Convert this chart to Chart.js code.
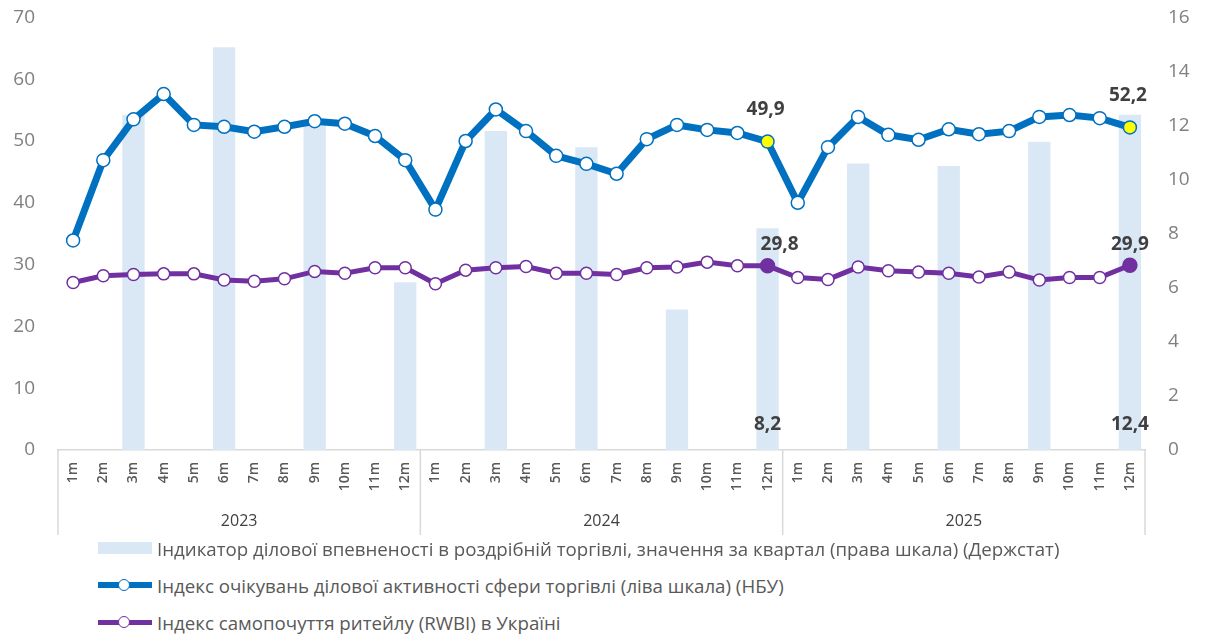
<!DOCTYPE html>
<html>
<head>
<meta charset="utf-8">
<script src="https://cdn.jsdelivr.net/npm/chart.js@4.4.1/dist/chart.umd.min.js"></script>
<style>
  html, body { margin: 0; padding: 0; background: #fff; overflow: hidden; }
  #wrap { position: relative; width: 1209px; height: 636px; font-family: "Open Sans", sans-serif; overflow: hidden; }
  #box { position: absolute; left: 0; top: -17px; width: 1209px; height: 557px; }
  .row { position: absolute; left: 98px; height: 24px; display: flex; align-items: center;
         color: #595959; font-size: 18.7px; white-space: nowrap; }
  .sw { position: relative; width: 54px; height: 24px; margin-right: 5px; flex: none; }
  .sw .bar { position: absolute; left: 0; top: 6px; width: 54px; height: 12px; background: #dae8f6; }
  .sw .ln { position: absolute; left: 0; width: 54px; }
  .sw .dot { position: absolute; left: 20px; top: 6px; width: 10px; height: 10px; border-radius: 50%;
             background: #fff; border: 1.5px solid; }
</style>
</head>
<body>
<div id="wrap">
  <div id="box"><canvas id="chart"></canvas></div>
  <div class="row" style="top:536px"><span class="sw"><span class="bar"></span></span>Індикатор ділової впевненості в роздрібній торгівлі, значення за квартал (права шкала) (Держстат)</div>
  <div class="row" style="top:573px"><span class="sw"><span class="ln" style="top:9px;height:6px;background:#0070c0"></span><span class="dot" style="border-color:#0070c0"></span></span>Індекс очікувань ділової активності сфери торгівлі (ліва шкала) (НБУ)</div>
  <div class="row" style="top:610px"><span class="sw"><span class="ln" style="top:9.5px;height:5px;background:#7030a0"></span><span class="dot" style="border-color:#7030a0"></span></span>Індекс самопочуття ритейлу (RWBI) в Україні</div>
</div>
<script>
const years = ["2023", "2024", "2025"];
const months = ["1m", "2m", "3m", "4m", "5m", "6m", "7m", "8m", "9m", "10m", "11m", "12m"];

// Індекс очікувань ділової активності (НБУ), ліва шкала
const expectations = [
    33.9, 46.9, 53.5, 57.6, 52.6, 52.3, 51.5, 52.3, 53.2, 52.8, 50.8, 46.9,
    38.9, 50.0, 55.1, 51.6, 47.6, 46.3, 44.7, 50.3, 52.6, 51.8, 51.3, 49.9,
    40.0, 49.0, 53.9, 51.0, 50.2, 51.9, 51.1, 51.6, 53.9, 54.2, 53.7, 52.2
];

// RWBI, ліва шкала
const rwbi = [
    27.1, 28.2, 28.4, 28.5, 28.5, 27.5, 27.3, 27.7, 28.9, 28.6, 29.5, 29.5,
    26.9, 29.1, 29.5, 29.7, 28.6, 28.6, 28.4, 29.5, 29.6, 30.4, 29.8, 29.8,
    27.9, 27.6, 29.6, 29.0, 28.8, 28.6, 28.0, 28.8, 27.5, 27.9, 27.9, 29.9
];

// Індикатор ділової впевненості (Держстат), за квартал, права шкала
const confidence = [12.4, 14.9, 12.1, 6.2, 11.8, 11.2, 5.2, 8.2, 10.6, 10.5, 11.4, 12.4];

const leftTicks = [0, 70, 10];
const rightTicks = [0, 16, 2];

const categories = years.flatMap(y => months);
const confidenceMonthly = categories.map((m, i) => (i % 3 === 2 ? confidence[Math.floor(i / 3)] : null));

// which points get a value label
const highlighted = [23, 35];

function fmt(v) {
    return v.toFixed(1).replace(".", ",");
}

function pointFill(color, mark) {
    return categories.map((m, i) => (highlighted.includes(i) ? mark : color));
}

const valueLabels = {
    id: "valueLabels",
    afterDatasetsDraw(chart) {
        const ctx = chart.ctx;
        const area = chart.chartArea;
        ctx.save();
        ctx.font = "bold 19px 'Open Sans', sans-serif";
        ctx.fillStyle = "#404040";
        ctx.textAlign = "center";
        ctx.textBaseline = "middle";
        highlighted.forEach(i => {
            const blue = chart.getDatasetMeta(2).data[i];
            ctx.fillText(fmt(expectations[i]), blue.x - 2, blue.y - 32);
            const purple = chart.getDatasetMeta(1).data[i];
            ctx.fillText(fmt(rwbi[i]), purple.x + (i === 23 ? 12 : 0), purple.y - 21);
            const bar = chart.getDatasetMeta(0).data[i];
            ctx.fillText(fmt(confidenceMonthly[i]), bar.x, area.bottom - 25);
        });
        ctx.restore();
    }
};

const yearBands = {
    id: "yearBands",
    afterDraw(chart) {
        const ctx = chart.ctx;
        const area = chart.chartArea;
        const x = chart.scales.x;
        const step = x.getPixelForValue(1) - x.getPixelForValue(0);
        ctx.save();
        ctx.strokeStyle = "#d9d9d9";
        ctx.lineWidth = 1.5;
        for (let k = 0; k <= years.length; k++) {
            const px = x.getPixelForValue(k * months.length) - step / 2;
            ctx.beginPath();
            ctx.moveTo(px, area.bottom);
            ctx.lineTo(px, area.bottom + 85);
            ctx.stroke();
        }
        ctx.font = "16px 'Open Sans', sans-serif";
        ctx.fillStyle = "#404040";
        ctx.textAlign = "center";
        ctx.textBaseline = "middle";
        years.forEach((y, k) => {
            const a = x.getPixelForValue(k * months.length) - step / 2;
            const b = x.getPixelForValue((k + 1) * months.length) - step / 2;
            ctx.fillText(y, (a + b) / 2, area.bottom + 71);
        });
        ctx.restore();
    }
};

const ctx = document.getElementById("chart").getContext("2d");

new Chart(ctx, {
    data: {
        labels: categories,
        datasets: [
            {
                type: "bar",
                label: "Індикатор ділової впевненості",
                data: confidenceMonthly,
                yAxisID: "y2",
                backgroundColor: "#dae8f6",
                barPercentage: 0.74,
                categoryPercentage: 1.0,
                order: 3
            },
            {
                type: "line",
                label: "RWBI",
                data: rwbi,
                yAxisID: "y",
                borderColor: "#7030a0",
                borderWidth: 5,
                pointRadius: categories.map((m, i) => (highlighted.includes(i) ? 7 : 6)),
                pointBorderWidth: 1.5,
                pointBorderColor: "#7030a0",
                pointBackgroundColor: pointFill("#ffffff", "#7030a0"),
                tension: 0,
                order: 2
            },
            {
                type: "line",
                label: "Індекс очікувань",
                data: expectations,
                yAxisID: "y",
                borderColor: "#0070c0",
                borderWidth: 7,
                pointRadius: 6.5,
                pointBorderWidth: 1.5,
                pointBorderColor: "#0070c0",
                pointBackgroundColor: pointFill("#ffffff", "#ffff00"),
                tension: 0,
                order: 1
            }
        ]
    },
    options: {
        responsive: true,
        maintainAspectRatio: false,
        animation: false,
        layout: { padding: 0 },
        plugins: {
            legend: { display: false },
            tooltip: { enabled: false }
        },
        scales: {
            x: {
                grid: { display: false, drawTicks: false },
                border: { display: true, color: "#d9d9d9", width: 1.5 },
                ticks: {
                    autoSkip: false,
                    minRotation: 90,
                    maxRotation: 90,
                    padding: 12,
                    color: "#595959",
                    font: { family: "'Open Sans', sans-serif", size: 14, weight: "600" }
                },
                afterFit: s => { s.height = 90; }
            },
            y: {
                position: "left",
                min: leftTicks[0],
                max: leftTicks[1],
                ticks: {
                    stepSize: leftTicks[2],
                    padding: 23,
                    color: "#808080",
                    font: { family: "'Open Sans', sans-serif", size: 19 }
                },
                grid: { display: false, drawTicks: false },
                border: { display: false },
                afterFit: s => { s.width = 58; }
            },
            y2: {
                position: "right",
                min: rightTicks[0],
                max: rightTicks[1],
                ticks: {
                    stepSize: rightTicks[2],
                    padding: 23,
                    color: "#808080",
                    font: { family: "'Open Sans', sans-serif", size: 19 }
                },
                grid: { display: false, drawTicks: false },
                border: { display: false },
                afterFit: s => { s.width = 64; }
            }
        }
    },
    plugins: [valueLabels, yearBands]
});
</script>
</body>
</html>
